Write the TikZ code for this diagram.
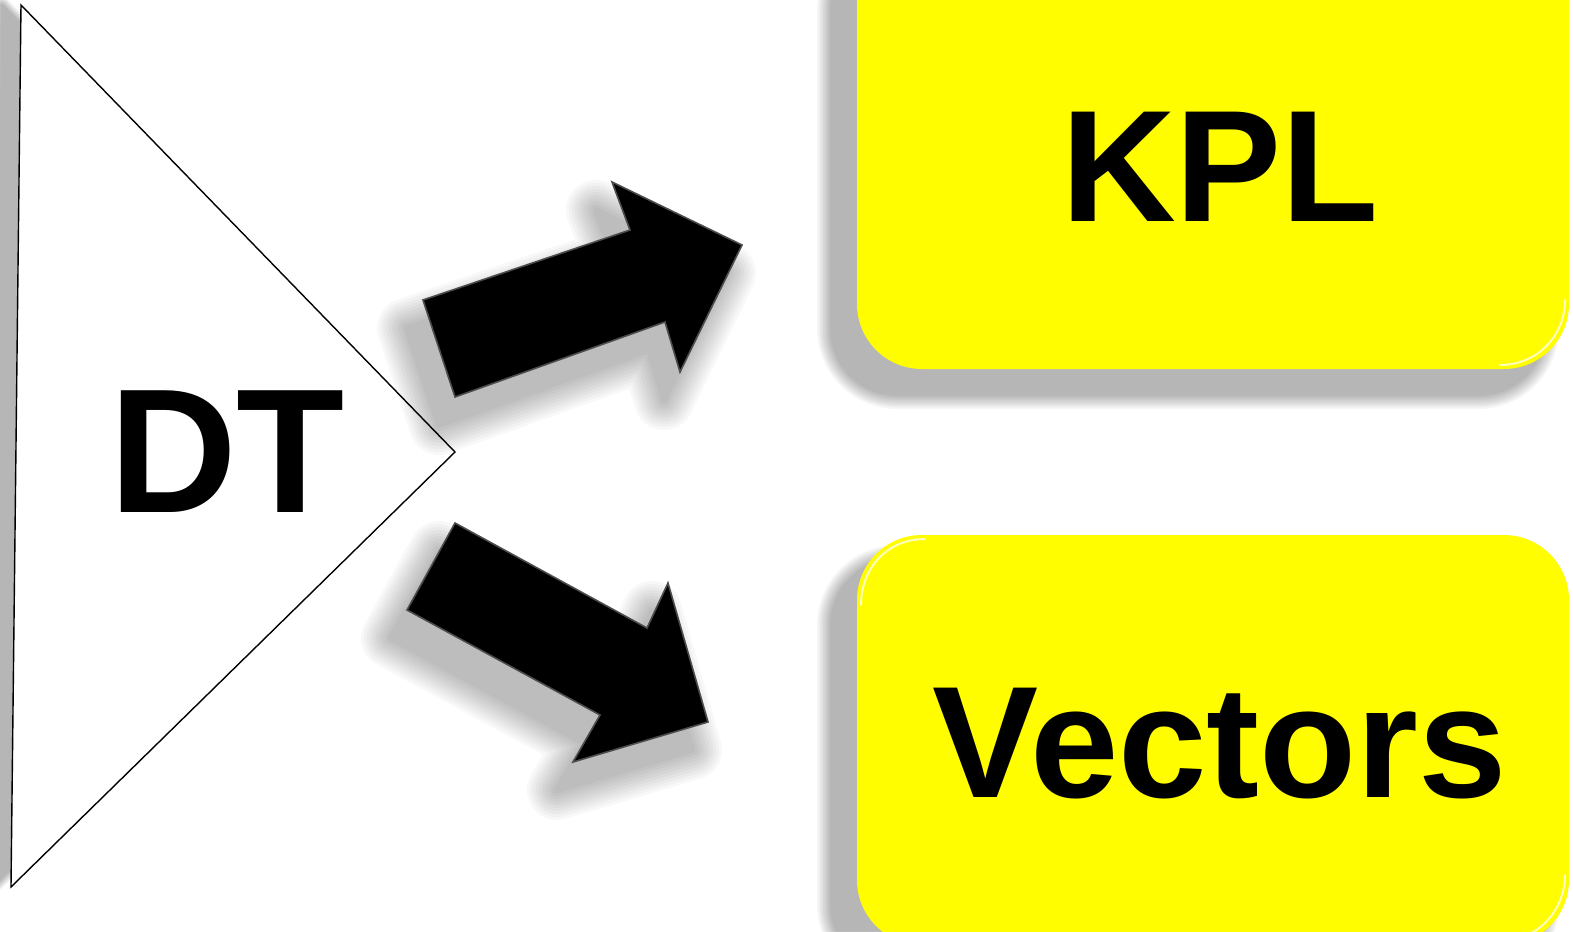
\documentclass[tikz,border=0pt]{standalone}
\usepackage{fontspec}
\setmainfont{Liberation Sans}
\definecolor{boxyellow}{RGB}{255,253,0}
\newcommand\softshadow[6]{%
  \begin{scope}[transform canvas={xshift=#1pt,yshift=-#2pt}]
    \foreach \k in {1,...,10}{%
      \pgfmathsetmacro\lw{#3*\k/5}%
      \begin{scope}[transparency group, opacity=#4]
        \filldraw[black, line width=\lw pt, line join=round, #5] #6;
      \end{scope}}
  \end{scope}}
\begin{document}
\begin{tikzpicture}[x=1pt,y=-1pt,
  boxshape/.style={fill=boxyellow, draw=none, rounded corners=65pt},
  highlight/.style={draw=white, line width=2pt, opacity=0.75, line cap=round},
  bigarrow/.style={fill=black, draw=black!70, line width=1.6pt, line join=miter},
  triangleshape/.style={fill=white, draw=black, line width=1.4pt, line join=miter},
  bigtext/.style={font=\bfseries\fontsize{159}{160}\selectfont, inner sep=0pt, anchor=base},
  dttext/.style={font=\bfseries\fontsize{177}{178}\selectfont, inner sep=0pt, anchor=base}
]
\useasboundingbox (0,0) rectangle (1573,931);
\fill[white] (0,0) rectangle (1573,931);

% triangle
\coordinate (ttop) at (21,5);
\coordinate (tbot) at (11,887);
\coordinate (tapex) at (455,452);
\softshadow{-19}{0}{8}{0.03}{}{(ttop) -- (tapex) -- (tbot) -- cycle}
\path[triangleshape] (ttop) -- (tapex) -- (tbot) -- cycle;
\node[dttext] (dt) at (227,512) {DT};

% boxes
\coordinate (k1) at (857,-80);
\coordinate (k2) at (1569,369);
\coordinate (v1) at (857,535);
\coordinate (v2) at (1569,945);
\softshadow{-25}{25}{15}{0.03}{rounded corners=65pt}{(k1) rectangle (k2)}
\softshadow{-25}{25}{15}{0.03}{rounded corners=65pt}{(v1) rectangle (v2)}
\path[boxshape] (k1) rectangle (k2);
\path[boxshape] (v1) rectangle (v2);
\draw[highlight] (1565,300) .. controls (1565,335) and (1538,365) .. (1500,365);
\draw[highlight] (861,605) .. controls (861,567) and (888,539) .. (925,539);
\draw[highlight] (1565,875) .. controls (1565,910) and (1538,941) .. (1500,941);
\node[bigtext] (kpl) at (1220,221) {KPL};
\node[bigtext] (vec) at (1220,797) {Vectors};

% arrows
\coordinate (a1) at (423,300);
\coordinate (a2) at (630,230);
\coordinate (a3) at (612,182);
\coordinate (a4) at (742,245);
\coordinate (a5) at (680,372);
\coordinate (a6) at (665,322);
\coordinate (a7) at (455,397);
\coordinate (b1) at (455,523);
\coordinate (b2) at (647,628);
\coordinate (b3) at (668,583);
\coordinate (b4) at (708,722);
\coordinate (b5) at (573,762);
\coordinate (b6) at (600,715);
\coordinate (b7) at (407,610);
\softshadow{-16}{28}{30}{0.027}{}{(a1) -- (a2) -- (a3) -- (a4) -- (a5) -- (a6) -- (a7) -- cycle}
\softshadow{-16}{28}{30}{0.027}{}{(b1) -- (b2) -- (b3) -- (b4) -- (b5) -- (b6) -- (b7) -- cycle}
\path[bigarrow] (a1) -- (a2) -- (a3) -- (a4) -- (a5) -- (a6) -- (a7) -- cycle;
\path[bigarrow] (b1) -- (b2) -- (b3) -- (b4) -- (b5) -- (b6) -- (b7) -- cycle;
\end{tikzpicture}
\end{document}
